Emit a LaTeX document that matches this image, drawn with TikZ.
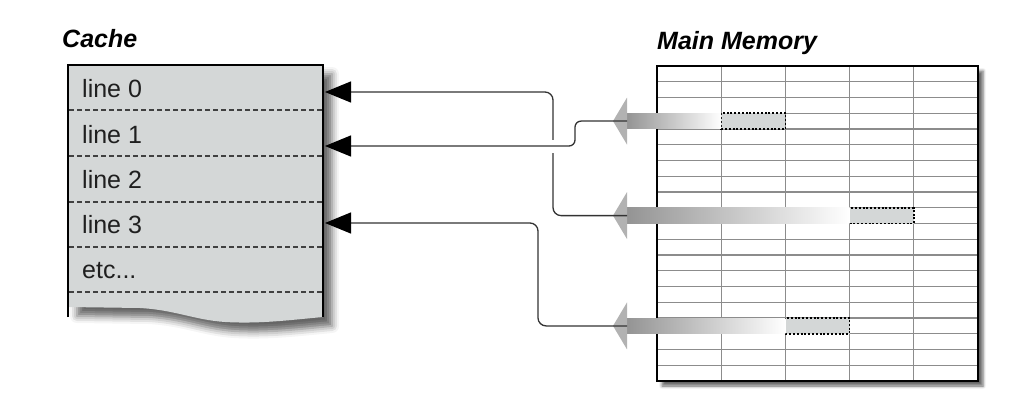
\documentclass[tikz,border=0pt]{standalone}
\usepackage{fontspec}
\setmainfont{Liberation Sans}
\usetikzlibrary{arrows.meta,shadows.blur}
\definecolor{cachegray}{RGB}{212,215,215}
\tikzset{
  rowtext/.style={anchor=base west,inner sep=0pt,font=\fontsize{25}{25}\selectfont,text=black!88},
  boxtitle/.style={anchor=base west,inner sep=0pt,font=\fontsize{25}{25}\selectfont\bfseries\itshape},
  rowsep/.style={black!75,line width=1.2pt,dash pattern=on 5pt off 3pt},
  gridline/.style={black!45,line width=1.2pt},
  memcell/.style={draw,fill=cachegray,line width=1.5pt,dash pattern=on 2pt off 1.8pt,
    minimum width=64.2pt,minimum height=15.75pt,inner sep=0pt,outer sep=0pt,anchor=north west},
  fetch/.style={fill=black!30},
  fetchbar/.style={left color=black!42,right color=white},
  link/.style={black!80,line width=1.3pt,rounded corners=8pt},
  intip/.style={-{Triangle[length=26pt,width=21pt,color=black]}}
}
\begin{document}
\begin{tikzpicture}[x=1pt,y=-1pt]
\useasboundingbox (0,0) rectangle (1028,409);

% cache
\node[boxtitle] (cachetitle) at (62,48) {Cache};
\fill[cachegray,blur shadow={shadow xshift=9pt,shadow yshift=-9pt,shadow blur radius=7pt,shadow opacity=60}]
  (68,65) -- (323,65) -- (323,317) .. controls (290,320) and (260,324) .. (225,322)
  .. controls (195,320) and (175,310) .. (140,308) -- (68,307) -- cycle;
\draw[line width=2.5pt] (68,317) -- (68,65) -- (323,65) -- (323,317);
\foreach \y in {110,156,202,247,292}
  \draw[rowsep] (69,\y) -- (322,\y);
\node[rowtext] (line0) at (82,98) {line 0};
\node[rowtext] (line1) at (82,143) {line 1};
\node[rowtext] (line2) at (82,188) {line 2};
\node[rowtext] (line3) at (82,233) {line 3};
\node[rowtext] (etc) at (82,278) {etc...};
\coordinate (in0) at (325,92);
\coordinate (in1) at (325,146);
\coordinate (in3) at (325,223);

% main memory
\node[boxtitle] (memtitle) at (657,50) {Main Memory};
\fill[white,blur shadow={shadow xshift=5pt,shadow yshift=-5pt,shadow blur radius=3pt,shadow opacity=60}]
  (657,66) rectangle (978,381);
\foreach \i in {1,...,19}
  \draw[gridline] (657,{66+15.75*\i}) -- (978,{66+15.75*\i});
\foreach \i in {1,...,4}
  \draw[gridline] ({657+64.2*\i},66) -- ({657+64.2*\i},381);
\draw[line width=2.8pt] (657,66) rectangle (978,381);

% fetched blocks
\node[memcell] (cellA) at (721.2,113.25) {};
\node[memcell] (cellB) at (849.6,207.75) {};
\node[memcell] (cellC) at (785.4,318) {};
\shade[fetchbar] (627,113.25) rectangle (cellA.south west);
\shade[fetchbar] (627,207.75) rectangle (cellB.south west);
\shade[fetchbar] (627,318) rectangle (cellC.south west);
\coordinate (fa) at (627,121.1);
\coordinate (fb) at (627,215.6);
\coordinate (fc) at (627,325.9);
\fill[fetch] (fa) ++(-14,0) -- ++(14,-23.5) -- ++(0,47) -- cycle;
\fill[fetch] (fb) ++(-14,0) -- ++(14,-23.5) -- ++(0,47) -- cycle;
\fill[fetch] (fc) ++(-14,0) -- ++(14,-23.5) -- ++(0,47) -- cycle;

% links
\draw[link,intip] (fb) -- (553,215.6) -- (553,92) -- (in0);
\fill[white] (549,140) rectangle (557,153);
\draw[link,rounded corners=6pt,intip] (fa) -- (575,121.1) -- (575,146) -- (in1);
\draw[link,intip] (fc) -- (538,325.9) -- (538,223) -- (in3);
\end{tikzpicture}
\end{document}
